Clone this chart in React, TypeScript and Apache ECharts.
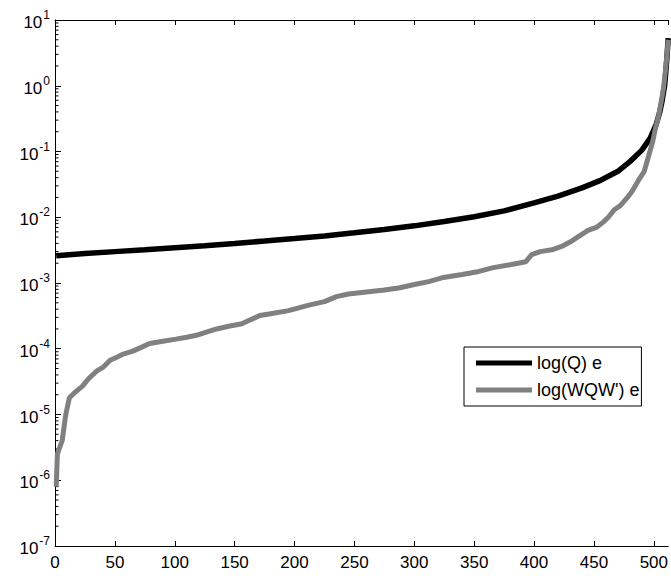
import React, { useEffect, useRef } from "react";
import * as echarts from "echarts";

const FONT = "'Liberation Sans', Arial, Helvetica, sans-serif";

// x positions and values
const qX = [1, 25, 50, 75, 100, 125, 150, 175, 200, 225, 250, 275, 300, 325, 350, 375, 400, 420, 440, 455, 470, 480, 490, 497, 502, 505, 507, 509, 510, 511, 512];
const qY = [2.6e-3, 2.8e-3, 3.0e-3, 3.2e-3, 3.45e-3, 3.7e-3, 4.0e-3, 4.35e-3, 4.75e-3, 5.2e-3, 5.8e-3, 6.5e-3, 7.4e-3, 8.6e-3, 1.02e-2, 1.25e-2, 1.65e-2, 2.1e-2, 2.8e-2, 3.6e-2, 5.0e-2, 7e-2, 0.105, 0.16, 0.26, 0.4, 0.6, 1.0, 1.6, 2.8, 5.3];

const wX = [1, 2, 4, 6, 9, 12, 17, 23, 28, 35, 40, 46, 52, 57, 65, 72, 79, 90, 101, 110, 118, 127, 135, 145, 156, 164, 171, 180, 195, 212, 225, 235, 245, 260, 275, 287, 300, 312, 323, 340, 354, 365, 380, 393, 398, 405, 415, 423, 430, 438, 445, 452, 458, 462, 467, 472, 478, 482, 487, 492, 496, 499, 501, 504, 506, 508, 510, 511, 512];
const wY = [8e-7, 2.5e-6, 3.2e-6, 4e-6, 1e-5, 1.8e-5, 2.2e-5, 2.7e-5, 3.5e-5, 4.6e-5, 5.2e-5, 6.7e-5, 7.5e-5, 8.3e-5, 9.2e-5, 1.05e-4, 1.2e-4, 1.3e-4, 1.4e-4, 1.5e-4, 1.6e-4, 1.8e-4, 2.0e-4, 2.2e-4, 2.4e-4, 2.8e-4, 3.2e-4, 3.4e-4, 3.8e-4, 4.6e-4, 5.2e-4, 6.2e-4, 6.8e-4, 7.3e-4, 7.8e-4, 8.4e-4, 9.5e-4, 1.05e-3, 1.2e-3, 1.35e-3, 1.5e-3, 1.7e-3, 1.9e-3, 2.1e-3, 2.7e-3, 3.0e-3, 3.2e-3, 3.6e-3, 4.2e-3, 5.2e-3, 6.3e-3, 7.0e-3, 8.5e-3, 1.0e-2, 1.3e-2, 1.5e-2, 2.0e-2, 2.5e-2, 3.6e-2, 5.0e-2, 9e-2, 0.14, 0.21, 0.35, 0.55, 0.9, 1.9, 3.0, 5.0];

const seriesNames = ["log(Q) e", "log(WQW') e"];
const xTickStep = 50;
const xMax = 512;
const yMinExp = -7;
const yMaxExp = 1;
const minorMultipliers = [2, 3, 4, 5, 6, 7, 8, 9];

export default function App() {
  const ref = useRef<HTMLDivElement>(null);
  useEffect(() => {
    if (!ref.current) return;
    const chart = echarts.init(ref.current, null, { renderer: "svg" });

    const minorTicks: number[][] = [];
    for (let e = yMinExp; e < yMaxExp; e++) {
      for (const m of minorMultipliers) minorTicks.push([0, m * Math.pow(10, e)]);
    }

    const axisLine = { show: true, lineStyle: { color: "#000", width: 1 } };

    chart.setOption({
      animation: false,
      backgroundColor: "#fff",
      textStyle: { fontFamily: FONT },
      grid: { left: 55, top: 20, right: 0, bottom: 33, containLabel: false },
      legend: {
        data: seriesNames.map((n) => ({ name: n, icon: "rect" })),
        orient: "vertical",
        left: 464,
        top: 347,
        itemWidth: 56,
        itemHeight: 5,
        itemGap: 7,
        padding: [6, 2, 6, 12],
        borderColor: "#000",
        borderWidth: 1,
        borderRadius: 0,
        backgroundColor: "#fff",
        textStyle: { fontSize: 18, fontFamily: FONT, color: "#000", lineHeight: 20 },
      },
      xAxis: [
        {
          type: "value",
          min: 0,
          max: xMax,
          interval: xTickStep,
          position: "bottom",
          axisLine,
          axisTick: { show: true, inside: true, length: 5, lineStyle: { color: "#000" } },
          splitLine: { show: false },
          axisLabel: {
            showMaxLabel: false,
            margin: 8,
            fontSize: 17,
            color: "#000",
            fontFamily: FONT,
            formatter: (v: number) => (v % xTickStep === 0 ? String(v) : ""),
          },
        },
        {
          type: "value",
          min: 0,
          max: xMax,
          interval: xTickStep,
          position: "top",
          axisLine,
          axisTick: { show: true, inside: true, length: 5, lineStyle: { color: "#000" } },
          splitLine: { show: false },
          axisLabel: { show: false },
        },
      ],
      yAxis: {
        type: "log",
        logBase: 10,
        min: Math.pow(10, yMinExp),
        max: Math.pow(10, yMaxExp),
        splitNumber: 8,
        axisLine,
        axisTick: { show: true, inside: true, length: 6, lineStyle: { color: "#000" } },
        splitLine: { show: false },
        axisLabel: {
          margin: 5,
          formatter: (v: number) => {
            const e = Math.round(Math.log10(v));
            return `{b|10}{s|${e}}`;
          },
          rich: {
            b: { fontSize: 17, color: "#000", fontFamily: FONT, verticalAlign: "bottom" },
            s: { fontSize: 12, color: "#000", fontFamily: FONT, verticalAlign: "bottom", padding: [0, 0, 10, 1] },
          },
        },
      },
      series: [
        {
          type: "custom",
          name: "minorTicks",
          silent: true,
          xAxisIndex: 0,
          data: minorTicks,
          renderItem: (params: any, api: any) => {
            const p = api.coord([0, api.value(1)]);
            const x0 = params.coordSys.x;
            return {
              type: "line",
              shape: { x1: x0, y1: p[1], x2: x0 + 3.5, y2: p[1] },
              style: { stroke: "#000", lineWidth: 1 },
            };
          },
          z: 1,
        },
        {
          type: "line",
          name: seriesNames[0],
          xAxisIndex: 0,
          data: qX.map((x, i) => [x, qY[i]]),
          showSymbol: false,
          symbol: "none",
          color: "#000",
          itemStyle: { color: "#000" },
          lineStyle: { color: "#000", width: 5.5 },
          z: 3,
        },
        {
          type: "line",
          name: seriesNames[1],
          xAxisIndex: 0,
          data: wX.map((x, i) => [x, wY[i]]),
          showSymbol: false,
          symbol: "none",
          color: "#808080",
          itemStyle: { color: "#808080" },
          lineStyle: { color: "#808080", width: 5 },
          z: 4,
        },
      ],
    });
    return () => chart.dispose();
  }, []);
  return (
    <div
      ref={ref}
      style={{ position: "fixed", left: 0, top: 0, width: 671, height: 579, background: "#fff" }}
    />
  );
}
